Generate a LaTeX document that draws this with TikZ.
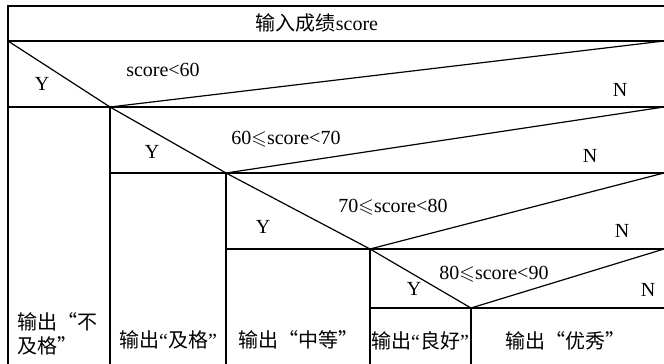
\documentclass[tikz,border=0pt]{standalone}
\usepackage{amssymb}
\usepackage{fontspec}
\setmainfont{Liberation Serif}
\newfontfamily\cjk{Noto Sans CJK SC}
\usepackage{tikz}
\tikzset{
	nsline/.style={line width=0.9pt}
}
\tikzset{
	nstext/.style={font=\fontsize{15}{17}\selectfont, inner sep=0pt}
}
\newcommand{\zh}[1]{{\cjk #1}}
\newcommand{\nsql}{{\rmfamily “}}
\newcommand{\nsqr}{{\rmfamily ”}}

\begin{document}
\begin{tikzpicture}[x=0.75pt,y=-0.75pt]
      \useasboundingbox (0,0) rectangle (664,364);
      % frame and row lines
      \draw[nsline] (8,364) -- (8,6) -- (664,6);
      \draw[nsline] (8,41) -- (664,41);
      \draw[nsline] (8,107) -- (664,107);
      \draw[nsline] (110,173) -- (664,173);
      \draw[nsline] (226,249) -- (664,249);
      \draw[nsline] (370,308) -- (664,308);
      % column lines
      \draw[nsline] (110,107) -- (110,364);
      \draw[nsline] (226,173) -- (226,364);
      \draw[nsline] (370,249) -- (370,364);
      \draw[nsline] (471,308) -- (471,364);
      % decision triangles
      \draw[nsline] (8,41) -- (110,107) -- (664,41);
      \draw[nsline] (110,107) -- (226,173) -- (664,107);
      \draw[nsline] (226,173) -- (370,249) -- (664,173);
      \draw[nsline] (370,249) -- (471,308) -- (664,249);
      % title
      \node[nstext] (title) at (317,23) {\zh{输入成绩}score};
      % conditions with Y and N
      \node[nstext] (cond1) at (163,70) {score<60};
      \node[nstext] (yes1) at (42,84) {Y};
      \node[nstext] (no1) at (620,90) {N};
      \node[nstext] (cond2) at (286,139) {60$\leqslant$score<70};
      \node[nstext] (yes2) at (152,152) {Y};
      \node[nstext] (no2) at (590,156) {N};
      \node[nstext] (cond3) at (393,207) {70$\leqslant$score<80};
      \node[nstext] (yes3) at (263,227) {Y};
      \node[nstext] (no3) at (622,231) {N};
      \node[nstext] (cond4) at (494,274) {80$\leqslant$score<90};
      \node[nstext] (yes4) at (414,289) {Y};
      \node[nstext] (no4) at (648,290) {N};
      % outputs
      \node[nstext, anchor=west, align=left, font=\fontsize{15}{18}\selectfont\cjk] (out1) at (17,334) {输出“不\\及格”};
      \node[nstext, font=\fontsize{15}{17}\selectfont\cjk] (out2) at (168,340) {输出\nsql 及格\nsqr};
      \node[nstext, font=\fontsize{15}{17}\selectfont\cjk] (out3) at (298,340) {输出“中等”};
      \node[nstext, font=\fontsize{15}{17}\selectfont\cjk] (out4) at (420,341) {输出\nsql 良好\nsqr};
      \node[nstext, font=\fontsize{15}{17}\selectfont\cjk] (out5) at (565,341) {输出“优秀”};
    \end{tikzpicture}
\end{document}
